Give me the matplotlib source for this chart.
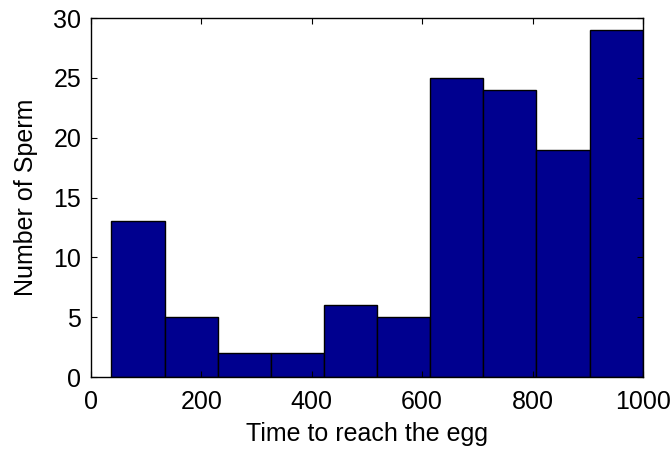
import matplotlib
matplotlib.use("Agg")
import matplotlib.pyplot as plt

# histogram bins
bin_edges = [37, 134, 230, 326, 422, 518, 615, 711, 807, 904, 1000]
counts = [13, 5, 2, 2, 6, 5, 25, 24, 19, 29]

plt.rcParams['font.family'] = ['Liberation Sans', 'DejaVu Sans']

fig = plt.figure(figsize=(6.72, 4.51), dpi=100)
ax = fig.add_axes([0.1354, 0.164, 0.8214, 0.796])

widths = [b - a for a, b in zip(bin_edges[:-1], bin_edges[1:])]
ax.bar(bin_edges[:-1], counts, width=widths, align='edge',
       color='#00008F', edgecolor='black', linewidth=1.0)

ax.set_xlim(0, 1000)
ax.set_ylim(0, 30)
ax.set_xticks([0, 200, 400, 600, 800, 1000])
ax.set_yticks([0, 5, 10, 15, 20, 25, 30])
ax.tick_params(direction='in', top=True, right=True, labelsize=18,
               length=4, pad=7)
ax.tick_params(axis='x', pad=9)
for s in ax.spines.values():
    s.set_linewidth(1.0)

ax.set_xlabel("Time to reach the egg", fontsize=18, labelpad=6)
ax.set_ylabel("Number of Sperm", fontsize=18, labelpad=11)

fig.savefig("out.png", dpi=100)
